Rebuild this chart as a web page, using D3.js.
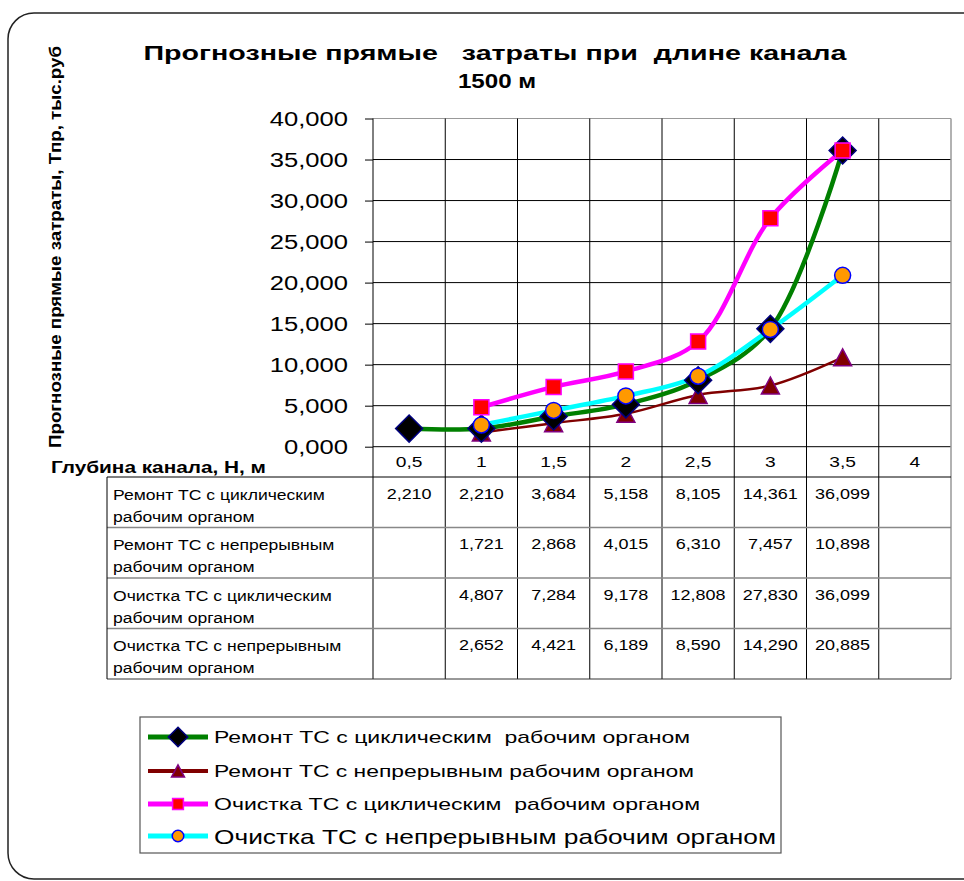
<!DOCTYPE html>
<html><head><meta charset="utf-8">
<script src="https://cdn.jsdelivr.net/npm/d3@7"></script>
<style>body{margin:0;background:#fff} svg{display:block} text{font-family:"Liberation Sans",Arial,sans-serif;white-space:pre}</style>
</head><body><svg id="c" width="964" height="881"></svg>
<script>
const categories = ['0,5','1','1,5','2','2,5','3','3,5','4'];
const yTicks = [0,5,10,15,20,25,30,35,40];
const seriesNames = [
  'Ремонт ТС с циклическим  рабочим органом',
  'Ремонт ТС с непрерывным рабочим органом',
  'Очистка ТС с циклическим  рабочим органом',
  'Очистка ТС с непрерывным рабочим органом'
];
const tableNames = [
  ['Ремонт ТС с циклическим','рабочим органом'],
  ['Ремонт ТС с непрерывным','рабочим органом'],
  ['Очистка ТС с циклическим','рабочим органом'],
  ['Очистка ТС с непрерывным','рабочим органом']
];
const remontCyc   = [2.210, 2.210, 3.684, 5.158, 8.105, 14.361, 36.099, null];
const remontCont  = [null, 1.721, 2.868, 4.015, 6.310, 7.457, 10.898, null];
const ochistkaCyc = [null, 4.807, 7.284, 9.178, 12.808, 27.830, 36.099, null];
const ochistkaCont= [null, 2.652, 4.421, 6.189, 8.590, 14.290, 20.885, null];
const seriesValues = [remontCyc, remontCont, ochistkaCyc, ochistkaCont];
const titleLines = ['Прогнозные прямые   затраты при  длине канала', '1500 м'];
const yTitle = 'Прогнозные прямые затраты, Тпр, тыс.руб';
const xTitle = 'Глубина канала, Н, м';

const SX = 1.28;
const loc = d3.formatLocale({decimal:',', thousands:' ', grouping:[3], currency:['','']});
const fmt = loc.format('.3f');

const svg = d3.select('#c');
function stext(sel, x, y, str, size, o = {}) {
  return sel.append('text')
    .attr('transform', `translate(${x},${y}) scale(${o.sx || SX},1)`)
    .attr('font-size', size)
    .attr('font-weight', o.bold ? 'bold' : 'normal')
    .attr('text-anchor', o.anchor || 'start')
    .attr('dominant-baseline', 'central')
    .attr('fill', '#000')
    .text(str);
}

// frame
svg.append('rect').attr('x', 8).attr('y', 13).attr('width', 1000).attr('height', 866)
  .attr('rx', 26).attr('fill', 'none').attr('stroke', '#222').attr('stroke-width', 1.5);

const L = 373, R = 951, T = 118.5, B = 446.7;
const tblLeft = 107, axRowBottom = 477, rowH = 50.5;
const tblBottom = axRowBottom + rowH * 4;

const x = d3.scaleBand().domain(categories).range([L, R]).padding(0);
const y = d3.scaleLinear().domain([0, 40]).range([B, T]);
const bw = x.bandwidth();
const cx = c => x(c) + bw / 2;

// title
svg.append('text').attr('x', 495).attr('y', 52).attr('font-size', 21).attr('font-weight', 'bold')
  .attr('text-anchor', 'middle').attr('dominant-baseline', 'central')
  .attr('textLength', 703).attr('lengthAdjust', 'spacingAndGlyphs').text(titleLines[0]);
stext(svg, 497, 81, titleLines[1], 21, {bold: true, anchor: 'middle', sx: 1.15});

// y title
svg.append('text').attr('transform', 'translate(55,247) rotate(-90)')
  .attr('font-size', 16).attr('font-weight', 'bold').attr('text-anchor', 'middle')
  .attr('dominant-baseline', 'central').attr('textLength', 402).attr('lengthAdjust', 'spacingAndGlyphs')
  .text(yTitle);

// horizontal gridlines
svg.append('g').selectAll('line').data(yTicks).join('line')
  .attr('x1', L).attr('x2', R).attr('y1', d => y(d)).attr('y2', d => y(d))
  .attr('stroke', d => d === 40 ? '#999' : '#000').attr('stroke-width', 1);

// vertical gridlines (through table)
const vx = categories.map(c => x(c)).slice(1);
svg.append('g').selectAll('line').data(vx).join('line')
  .attr('x1', d => d).attr('x2', d => d).attr('y1', T).attr('y2', tblBottom)
  .attr('stroke', '#000').attr('stroke-width', 1);
svg.append('line').attr('x1', R).attr('x2', R).attr('y1', T).attr('y2', tblBottom)
  .attr('stroke', '#999').attr('stroke-width', 1.5);

// y axis
const yAxis = svg.append('g').attr('transform', `translate(${L},0)`)
  .call(d3.axisLeft(y).tickValues(yTicks).tickSize(8).tickSizeOuter(0).tickFormat(fmt));
yAxis.select('.domain').attr('d', `M0,${T}V${tblBottom}`).attr('stroke', '#000');
yAxis.selectAll('.tick line').attr('stroke', '#000');
yAxis.selectAll('.tick text').attr('x', null).attr('dy', null)
  .attr('dominant-baseline', 'central').attr('font-size', 20)
  .attr('font-family', '"Liberation Sans",Arial,sans-serif').attr('fill', '#000')
  .attr('transform', `translate(-25,0) scale(${SX},1)`);

// x category row
categories.forEach(c => stext(svg, cx(c), 462, c, 15, {anchor: 'middle'}));
svg.append('text').attr('x', 51).attr('y', 467).attr('font-size', 16).attr('font-weight', 'bold')
  .attr('dominant-baseline', 'central').attr('textLength', 215).attr('lengthAdjust', 'spacingAndGlyphs')
  .text(xTitle);

// table lines
svg.append('line').attr('x1', tblLeft).attr('x2', R).attr('y1', axRowBottom).attr('y2', axRowBottom).attr('stroke', '#000');
for (let i = 1; i < 4; i++) {
  const yy = axRowBottom + rowH * i;
  svg.append('line').attr('x1', tblLeft).attr('x2', R).attr('y1', yy).attr('y2', yy).attr('stroke', '#888').attr('stroke-width', 1.5);
}
svg.append('line').attr('x1', tblLeft).attr('x2', R).attr('y1', tblBottom).attr('y2', tblBottom).attr('stroke', '#333');
svg.append('line').attr('x1', tblLeft).attr('x2', tblLeft).attr('y1', axRowBottom).attr('y2', tblBottom).attr('stroke', '#000');

// table text
tableNames.forEach((nm, i) => {
  const top = axRowBottom + rowH * i;
  stext(svg, 113, top + 17, nm[0], 15, {sx: 1.17});
  stext(svg, 113, top + 39, nm[1], 15, {sx: 1.17});
  seriesValues[i].forEach((v, j) => {
    if (v != null) stext(svg, cx(categories[j]), top + 17, fmt(v), 15, {anchor: 'middle', sx: 1.2});
  });
});

// series styles
const styles = [
  {line: '#008000', w: 4.5, marker: 'diamond', fill: '#000000', stroke: '#000080'},
  {line: '#800000', w: 2.5, marker: 'triangle', fill: '#800000', stroke: '#800080'},
  {line: '#FF00FF', w: 4.5, marker: 'square', fill: '#FF0000', stroke: '#FF00FF'},
  {line: '#00FFFF', w: 4.5, marker: 'circle', fill: '#FF9900', stroke: '#0000FF'}
];
function markerPath(type, s) {
  s = s || 1;
  if (type === 'diamond') { const r = 13.5 * s; return `M0,${-r}L${r},0L0,${r}L${-r},0Z`; }
  if (type === 'triangle') { const w = 9 * s, h = 8.5 * s; return `M0,${-h}L${w},${h}L${-w},${h}Z`; }
  if (type === 'square') { const r = 7.5 * s; return `M${-r},${-r}H${r}V${r}H${-r}Z`; }
  return d3.symbol(d3.symbolCircle, Math.PI * 64 * s * s)();
}

const line = d3.line().defined(d => d.v != null)
  .x(d => cx(d.c)).y(d => y(d.v)).curve(d3.curveCatmullRom.alpha(0.5));
const pts = seriesValues.map(vals => vals.map((v, j) => ({c: categories[j], v})));
const gL = svg.append('g');
pts.forEach((p, i) => {
  gL.append('path').attr('d', line(p)).attr('fill', 'none')
    .attr('stroke', styles[i].line).attr('stroke-width', styles[i].w).attr('stroke-linejoin', 'round');
});
const order = [1, 0, 2, 3];
order.forEach(i => {
  svg.append('g').selectAll('path').data(pts[i].filter(d => d.v != null)).join('path')
    .attr('transform', d => `translate(${cx(d.c)},${y(d.v)})`)
    .attr('d', markerPath(styles[i].marker))
    .attr('fill', styles[i].fill).attr('stroke', styles[i].stroke).attr('stroke-width', 1.5);
});

// legend
const lg = svg.append('g');
lg.append('rect').attr('x', 140).attr('y', 717).attr('width', 641).attr('height', 136)
  .attr('fill', '#fff').attr('stroke', '#555').attr('stroke-width', 1.2);
const legY = [737, 771, 804, 836];
const legW = [476, 480, 486, 562];
const legFs = [17, 17, 17, 21];
seriesNames.forEach((nm, i) => {
  const yy = legY[i];
  lg.append('line').attr('x1', 148).attr('x2', 208).attr('y1', yy).attr('y2', yy)
    .attr('stroke', styles[i].line).attr('stroke-width', i === 1 ? 4 : 5);
  lg.append('path').attr('transform', `translate(178,${yy})`).attr('d', markerPath(styles[i].marker, 0.72))
    .attr('fill', styles[i].fill).attr('stroke', styles[i].stroke).attr('stroke-width', 1.5);
  lg.append('text').attr('x', 214).attr('y', yy).attr('font-size', legFs[i])
    .attr('dominant-baseline', 'central').attr('textLength', legW[i]).attr('lengthAdjust', 'spacingAndGlyphs')
    .text(nm);
});
</script></body></html>
